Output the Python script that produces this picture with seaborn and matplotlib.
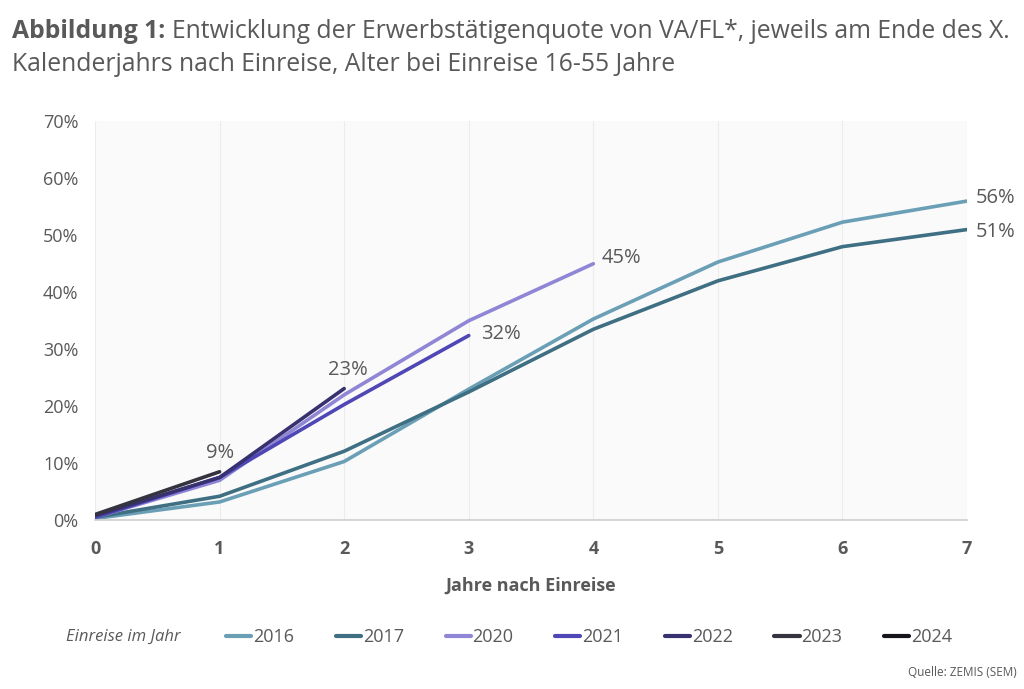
import pandas as pd
import matplotlib.pyplot as plt
import seaborn as sns

# Jahre nach Einreise and employment rates (%) per entry cohort
years_after = [0, 1, 2, 3, 4, 5, 6, 7]
rate_2016 = [0.3, 3.2, 10.3, 23.0, 35.3, 45.3, 52.3, 56.0]
rate_2017 = [0.5, 4.2, 12.1, 22.5, 33.5, 42.0, 48.0, 51.0]
rate_2020 = [0.5, 7.0, 22.0, 35.0, 45.0]
rate_2021 = [0.5, 7.5, 20.3, 32.4]
rate_2022 = [0.8, 7.5, 23.1]
rate_2023 = [1.0, 8.5]
rate_2024 = [1.3]

cohorts = ['2016', '2017', '2020', '2021', '2022', '2023', '2024']
rates = [rate_2016, rate_2017, rate_2020, rate_2021, rate_2022, rate_2023, rate_2024]
palette = {'2016': '#6a9fb6', '2017': '#3f6f83', '2020': '#8f86d6',
           '2021': '#4f47b6', '2022': '#37316f', '2023': '#34333f', '2024': '#16151c'}

rows = []
for c, r in zip(cohorts, rates):
    for x, v in zip(years_after, r):
        rows.append({'Jahre': x, 'Quote': v, 'Einreise': c})
df = pd.DataFrame(rows)

sns.set_theme(style='white')
plt.rcParams['font.family'] = ['Open Sans', 'DejaVu Sans']
grey = '#595959'

fig = plt.figure(figsize=(10.24, 6.89), dpi=100)
ax = fig.add_axes([0.0928, 0.245, 0.8516, 0.579])
ax.set_facecolor('#fafafa')

sns.lineplot(data=df, x='Jahre', y='Quote', hue='Einreise', hue_order=cohorts,
             palette=palette, linewidth=2.6, ax=ax, legend=False)

ax.set_xlim(0, 7)
ax.set_ylim(0, 70)
ax.set_xticks(range(8))
ax.set_yticks(range(0, 71, 10))
ax.set_yticklabels([f'{v}%' for v in range(0, 71, 10)], color=grey, fontsize=13)
ax.set_xticklabels([str(v) for v in range(8)], color=grey, fontsize=13, fontweight='bold')
ax.tick_params(axis='x', pad=14, length=0)
ax.tick_params(axis='y', pad=12, length=0)
ax.grid(axis='x', color='#ececec', linewidth=0.8)
for s in ['top', 'right', 'left']:
    ax.spines[s].set_visible(False)
ax.spines['bottom'].set_color('#d0d0d0')
ax.set_xlabel('Jahre nach Einreise', color=grey, fontsize=13, fontweight='bold', labelpad=14)
ax.set_ylabel('')

# end labels
lab = dict(color=grey, fontsize=14.5)
ax.annotate('9%', (1, rate_2023[1]), xytext=(0, 6), textcoords='offset points', ha='center', va='bottom', **lab)
ax.annotate('23%', (2, rate_2022[2]), xytext=(3, 6), textcoords='offset points', ha='center', va='bottom', **lab)
ax.annotate('32%', (3, rate_2021[3]), xytext=(9, 1), textcoords='offset points', ha='left', va='center', **lab)
ax.annotate('45%', (4, rate_2020[4]), xytext=(6, 4), textcoords='offset points', ha='left', va='center', **lab)
ax.annotate('56%', (7, rate_2016[7]), xytext=(6, 2), textcoords='offset points', ha='left', va='center', **lab, annotation_clip=False)
ax.annotate('51%', (7, rate_2017[7]), xytext=(6, -2), textcoords='offset points', ha='left', va='center', **lab, annotation_clip=False)

# title: bold lead-in followed directly by the normal text
t1 = fig.text(0.012, 0.955, 'Abbildung 1:', fontsize=17.8, fontweight='bold', color=grey, va='center')
fig.canvas.draw()
bb = t1.get_window_extent().transformed(fig.transFigure.inverted())
fig.text(bb.x1 + 0.006, 0.955, 'Entwicklung der Erwerbstätigenquote von VA/FL*, jeweils am Ende des X.',
         fontsize=17.8, color=grey, va='center')
fig.text(0.012, 0.906, 'Kalenderjahrs nach Einreise, Alter bei Einreise 16-55 Jahre',
         fontsize=17.8, color=grey, va='center')

# legend
fig.text(0.064, 0.075, 'Einreise im Jahr', fontsize=12, style='italic', color=grey, va='center')
handles = [plt.Line2D([], [], color=palette[c], linewidth=3) for c in cohorts]
leg = fig.legend(handles, cohorts, loc='center left', bbox_to_anchor=(0.205, 0.075), ncol=7,
                 frameon=False, handlelength=1.4, handletextpad=0.1, columnspacing=2.3,
                 fontsize=13)
for t in leg.get_texts():
    t.set_color(grey)

fig.text(0.993, 0.015, 'Quelle: ZEMIS (SEM)', fontsize=8.5, color=grey, ha='right', va='bottom')

plt.savefig('out.png', dpi=100)
